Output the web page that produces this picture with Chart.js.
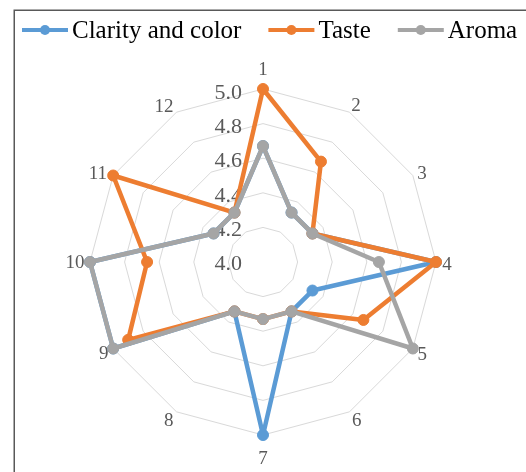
<!DOCTYPE html>
<html><head><meta charset="utf-8">
<script src="https://cdn.jsdelivr.net/npm/chart.js@4"></script>
<style>html,body{margin:0;padding:0;background:#fff;} #wrap{width:526px;height:472px;position:relative;}</style>
</head><body><div id="wrap"><canvas id="c" width="526" height="472"></canvas></div>
<script>
const categories = ['1','2','3','4','5','6','7','8','9','10','11','12'];
const seriesNames = ['Clarity and color','Taste','Aroma'];
const clarityValues = [4.67,4.33,4.33,5.0,4.33,4.33,5.0,4.33,5.0,5.0,4.33,4.33];
const tasteValues   = [5.0,4.67,4.33,5.0,4.67,4.33,4.33,4.33,4.9,4.67,5.0,4.33];
const aromaValues   = [4.67,4.33,4.33,4.67,5.0,4.33,4.33,4.33,5.0,5.0,4.33,4.33];
const tickLabels = ['4.0','4.2','4.4','4.6','4.8','5.0'];
const seriesColors = ['#5B9BD5','#ED7D31','#A5A5A5'];
const seriesValues = [clarityValues, tasteValues, aromaValues];
// category label placement (style only): gap beyond outer ring, plus small nudge
const labelGap = [20.6,10,9.5,11,11,10.5,23,10.7,10.4,15,14.7,12.2];
const labelNudge = [[0,0],[1.5,1],[1,1.5],[0,2],[0,0],[2,-1],[0,0],[-2.5,-1.5],[-0.5,-1],[0,0],[-2.5,4.3],[-6.4,3.9]];

const decor = {
  id: 'decor',
  beforeDraw(chart) {
    const ctx = chart.ctx;
    ctx.save();
    ctx.fillStyle = '#fff';
    ctx.fillRect(0, 0, chart.width, chart.height);
    ctx.strokeStyle = '#595959';
    ctx.lineWidth = 1.5;
    ctx.beginPath();
    ctx.moveTo(14.25, chart.height);
    ctx.lineTo(14.25, 10.25);
    ctx.lineTo(chart.width, 10.25);
    ctx.stroke();
    ctx.restore();
  },
  beforeDatasetsDraw(chart) {
    const ctx = chart.ctx, s = chart.scales.r;
    ctx.save();
    ctx.fillStyle = '#595959';
    ctx.textBaseline = 'alphabetic';
    ctx.font = '22px "Liberation Serif"';
    ctx.textAlign = 'right';
    tickLabels.forEach(t => {
      const d = s.getDistanceFromCenterForValue(parseFloat(t));
      ctx.fillText(t, s.xCenter - 21, s.yCenter - d * 0.985 + 0.5 + 7.2);
    });
    ctx.font = '19px "Liberation Serif"';
    ctx.textAlign = 'center';
    chart.data.labels.forEach((lab, i) => {
      const p = s.getPointPosition(i, s.drawingArea + labelGap[i]);
      ctx.fillText(lab, p.x + labelNudge[i][0], p.y + labelNudge[i][1] + 6.3);
    });
    ctx.restore();
  },
  afterDraw(chart) {
    const ctx = chart.ctx;
    ctx.save();
    ctx.font = '25px "Liberation Serif"';
    ctx.textBaseline = 'middle';
    ctx.textAlign = 'left';
    let x = 22; const y = 30;
    chart.data.datasets.forEach(ds => {
      ctx.strokeStyle = ds.borderColor;
      ctx.lineWidth = 4;
      ctx.beginPath(); ctx.moveTo(x, y); ctx.lineTo(x + 46, y); ctx.stroke();
      ctx.fillStyle = ds.borderColor;
      ctx.beginPath(); ctx.arc(x + 23, y, 5, 0, Math.PI * 2); ctx.fill();
      ctx.fillStyle = '#000';
      ctx.fillText(ds.label, x + 50, y + 1);
      x += 50 + ctx.measureText(ds.label).width + 27;
    });
    ctx.restore();
  }
};

const datasets = seriesNames.map((name, i) => ({
  label: name,
  data: seriesValues[i],
  borderColor: seriesColors[i],
  backgroundColor: seriesColors[i],
  pointBackgroundColor: seriesColors[i],
  pointBorderColor: seriesColors[i],
  borderWidth: 4.5,
  pointRadius: 5.5,
  pointBorderWidth: 1,
  fill: false,
  tension: 0,
  borderJoinStyle: 'round',
  order: seriesNames.length - 1 - i
}));

new Chart(document.getElementById('c'), {
  type: 'radar',
  data: { labels: categories, datasets },
  options: {
    responsive: false,
    animation: false,
    layout: { padding: { top: 89, bottom: 36, left: 0, right: 0 } },
    plugins: { legend: { display: false }, tooltip: { enabled: false } },
    scales: {
      r: {
        min: 4, max: 5,
        ticks: { stepSize: 0.2, display: false },
        grid: { color: '#D9D9D9', lineWidth: 1, circular: false },
        angleLines: { display: false },
        pointLabels: { display: false }
      }
    }
  },
  plugins: [decor]
});
</script></body></html>
